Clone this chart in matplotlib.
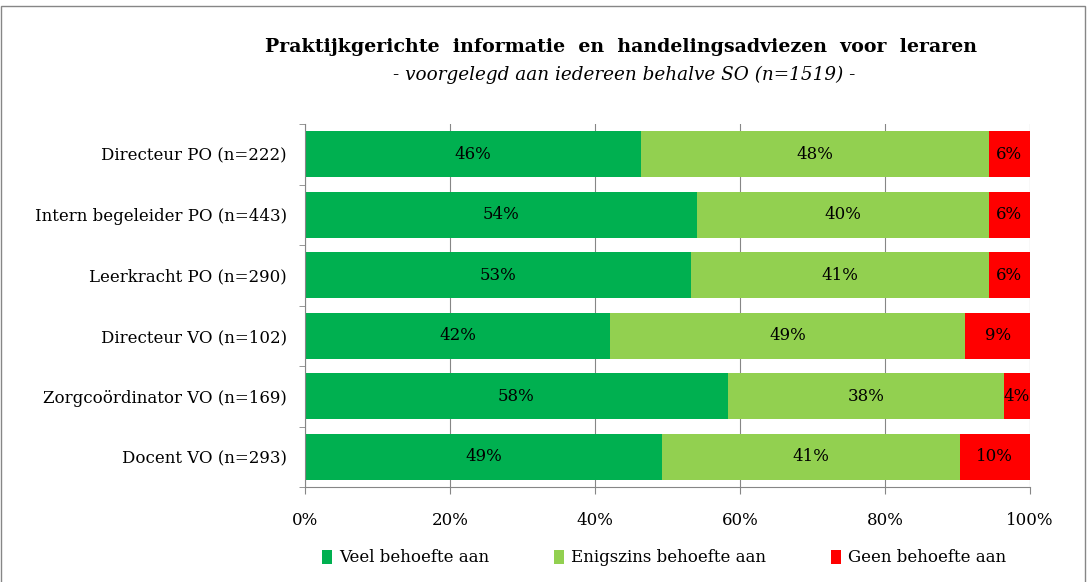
import matplotlib.pyplot as plt
from matplotlib.patches import Rectangle
import numpy as np

# data (percentages per group)
groups = ['Directeur PO (n=222)', 'Intern begeleider PO (n=443)', 'Leerkracht PO (n=290)',
          'Directeur VO (n=102)', 'Zorgcoördinator VO (n=169)', 'Docent VO (n=293)']
veel = [46.4, 54.1, 53.2, 42.1, 58.3, 49.2]
enigszins = [47.9, 40.2, 41.1, 49.0, 38.1, 41.1]
geen = [5.7, 5.7, 5.7, 8.9, 3.6, 9.7]
series_names = ['Veel behoefte aan', 'Enigszins behoefte aan', 'Geen behoefte aan']
colors = ['#00B050', '#92D050', '#FF0000']
xticks = [0, 20, 40, 60, 80, 100]

plt.rcParams['font.family'] = ['DejaVu Serif']

fig = plt.figure(figsize=(10.87, 5.82), dpi=100)
W, H = 1087, 582
ax = fig.add_axes([305 / W, 1 - 487 / H, 725 / W, (487 - 124) / H])

y = np.arange(len(groups))
left = np.zeros(len(groups))
for vals, name, col in zip([veel, enigszins, geen], series_names, colors):
    vals = np.array(vals)
    bars = ax.barh(y, vals, left=left, height=0.76, color=col, label=name, zorder=2)
    for b, v in zip(bars, vals):
        ax.text(b.get_x() + b.get_width() / 2, b.get_y() + b.get_height() / 2,
                '%.0f%%' % v, ha='center', va='center', fontsize=12, zorder=3)
    left += vals

ax.set_xlim(0, 100)
ax.set_ylim(len(groups) - 0.5, -0.5)
ax.set_yticks(y)
ax.set_yticklabels(groups, fontsize=12)
ax.set_yticks(np.arange(len(groups) + 1) - 0.5, minor=True)
ax.tick_params(axis='y', which='major', length=0, pad=13)
ax.tick_params(axis='y', which='minor', length=4, color='#868686', direction='out')
ax.set_xticks(xticks)
ax.set_xticklabels(['%d%%' % t for t in xticks], fontsize=12)
ax.tick_params(axis='x', length=5, color='#868686', direction='out', pad=13)
ax.grid(axis='x', color='#868686', linewidth=0.8, zorder=0)
for s in ['top', 'right']:
    ax.spines[s].set_visible(False)
ax.spines['left'].set_color('#868686')
ax.spines['bottom'].set_color('#868686')

fig.text(621 / W, 1 - 47 / H, 'Praktijkgerichte  informatie  en  handelingsadviezen  voor  leraren',
         ha='center', va='center', fontsize=13.7, fontweight='bold')
fig.text(624 / W, 1 - 75 / H, '- voorgelegd aan iedereen behalve SO (n=1519) -',
         ha='center', va='center', fontsize=13.2, style='italic')

handles, labels = ax.get_legend_handles_labels()
fig.legend(handles, labels, loc='center', bbox_to_anchor=(664 / W, 1 - 558 / H), ncol=3,
           frameon=False, fontsize=12, handlelength=0.6, handleheight=0.9,
           handletextpad=0.4, columnspacing=3.9)

fig.patches.append(Rectangle((1 / W, -0.01), 1 - 3 / W, 1 - 0.5 / H, transform=fig.transFigure,
                             fill=False, edgecolor='#868686', linewidth=1))

fig.savefig('out.png', dpi=100)
